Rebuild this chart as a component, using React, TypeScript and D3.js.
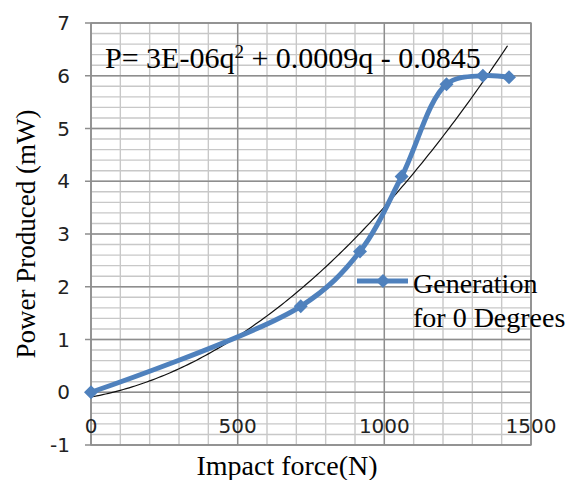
import React from "react";
import * as d3 from "d3";

// measured points of the "Generation for 0 Degrees" series
const impactForce = [0, 715, 917, 1059, 1212, 1336, 1425];
const powerProduced = [0, 1.63, 2.67, 4.09, 5.84, 6.0, 5.97];

const xTicks = [0, 500, 1000, 1500];
const yTicks = [-1, 0, 1, 2, 3, 4, 5, 6, 7];
const seriesName = ["Generation", "for 0 Degrees"];

const W = 581, H = 480;
const margin = { top: 23, right: 50, bottom: 35, left: 91 };

// quadratic least squares, like the excel trendline
function polyFit(xs: number[], ys: number[]) {
  const s = [0, 0, 0, 0, 0];
  const t = [0, 0, 0];
  xs.forEach((x, i) => {
    for (let k = 0; k < 5; k++) s[k] += Math.pow(x, k);
    for (let k = 0; k < 3; k++) t[k] += Math.pow(x, k) * ys[i];
  });
  const A = [
    [s[0], s[1], s[2], t[0]],
    [s[1], s[2], s[3], t[1]],
    [s[2], s[3], s[4], t[2]],
  ];
  for (let i = 0; i < 3; i++) {
    for (let j = i + 1; j < 3; j++) {
      const f = A[j][i] / A[i][i];
      for (let k = i; k < 4; k++) A[j][k] -= f * A[i][k];
    }
  }
  const c = [0, 0, 0];
  for (let i = 2; i >= 0; i--) {
    let v = A[i][3];
    for (let k = i + 1; k < 3; k++) v -= A[i][k] * c[k];
    c[i] = v / A[i][i];
  }
  return c; // c0 + c1 x + c2 x^2
}

export default function App() {
  const x = d3.scaleLinear().domain([0, 1500]).range([margin.left, W - margin.right]);
  const y = d3.scaleLinear().domain([-1, 7]).range([H - margin.bottom, margin.top]);

  const minorX = d3.range(0, 1501, 100);
  const minorY = d3.range(-1, 7.001, 0.2).map((v) => Math.round(v * 10) / 10);

  const pts = impactForce.map((f, i) => [f, powerProduced[i]] as [number, number]);
  // smoothed line
  const line = d3
    .line<[number, number]>()
    .x((d) => x(d[0]))
    .y((d) => y(d[1]))
    .curve(d3.curveCatmullRom.alpha(0.5));

  const c = polyFit(impactForce, powerProduced);
  const trendPts = d3
    .range(0, d3.max(impactForce)! + 1, 10)
    .map((q) => [q, c[0] + c[1] * q + c[2] * q * q] as [number, number]);
  const trend = d3
    .line<[number, number]>()
    .x((d) => x(d[0]))
    .y((d) => y(d[1]));

  const diamond = (cx: number, cy: number, r = 7) =>
    `M${cx},${cy - r}L${cx + r},${cy}L${cx},${cy + r}L${cx - r},${cy}Z`;

  const blue = "#4f81bd";
  const x0 = x(0), x1 = x(1500), y0 = y(-1), y1 = y(7);

  return (
    <svg
      width={W}
      height={H}
      style={{ position: "absolute", left: 0, top: 0, background: "#fff" }}
    >
      {/* minor grid */}
      {minorX.map((v) => (
        <line key={"mx" + v} x1={x(v)} x2={x(v)} y1={y1} y2={y0} stroke="#c8c8c8" strokeWidth={1.4} />
      ))}
      {minorY.map((v) => (
        <line key={"my" + v} x1={x0} x2={x1} y1={y(v)} y2={y(v)} stroke="#c8c8c8" strokeWidth={1.4} />
      ))}
      {/* major grid */}
      {xTicks.map((v) => (
        <line key={"Mx" + v} x1={x(v)} x2={x(v)} y1={y1} y2={y0} stroke="#8e8e8e" strokeWidth={1.4} />
      ))}
      {yTicks.map((v) => (
        <line key={"My" + v} x1={x0 - 6} x2={x1} y1={y(v)} y2={y(v)} stroke="#8e8e8e" strokeWidth={1.4} />
      ))}
      <rect x={x0} y={y1} width={x1 - x0} height={y0 - y1} fill="none" stroke="#8e8e8e" strokeWidth={1.4} />

      {/* tick labels */}
      {yTicks.map((v) => (
        <text
          key={"yl" + v}
          x={70}
          y={y(v)}
          dy="0.36em"
          textAnchor="end"
          fontFamily="DejaVu Sans"
          fontSize={20}
          fill="#222"
        >
          {v}
        </text>
      ))}
      {xTicks.map((v) => (
        <text
          key={"xl" + v}
          x={x(v)}
          y={433}
          textAnchor="middle"
          fontFamily="DejaVu Sans"
          fontSize={20}
          fill="#222"
        >
          {v}
        </text>
      ))}

      {/* trendline */}
      <path d={trend(trendPts)!} fill="none" stroke="#111" strokeWidth={1.2} />

      {/* series */}
      <path d={line(pts)!} fill="none" stroke={blue} strokeWidth={5} strokeLinejoin="round" />
      {pts.map((d, i) => (
        <path key={"pt" + i} d={diamond(x(d[0]), y(d[1]))} fill={blue} />
      ))}

      {/* equation */}
      <text x={105} y={68} fontFamily="Liberation Serif" fontSize={30} fill="#000">
        P= 3E-06q<tspan dy={-10} fontSize={19}>2</tspan>
        <tspan dy={10}> + 0.0009q - 0.0845</tspan>
      </text>

      {/* legend */}
      <line x1={357} x2={408} y1={281} y2={281} stroke={blue} strokeWidth={5} />
      <path d={diamond(383, 281)} fill={blue} />
      <text x={413} y={293} fontFamily="Liberation Serif" fontSize={28} fill="#000">
        {seriesName[0]}
      </text>
      <text x={413} y={327} fontFamily="Liberation Serif" fontSize={28} fill="#000">
        {seriesName[1]}
      </text>

      {/* axis titles */}
      <text
        x={287}
        y={475}
        textAnchor="middle"
        fontFamily="Liberation Serif"
        fontSize={28}
        fill="#000"
      >
        Impact force(N)
      </text>
      <text
        transform={`translate(35,234) rotate(-90)`}
        textAnchor="middle"
        fontFamily="Liberation Serif"
        fontSize={27}
        fill="#000"
      >
        Power Produced (mW)
      </text>
    </svg>
  );
}
